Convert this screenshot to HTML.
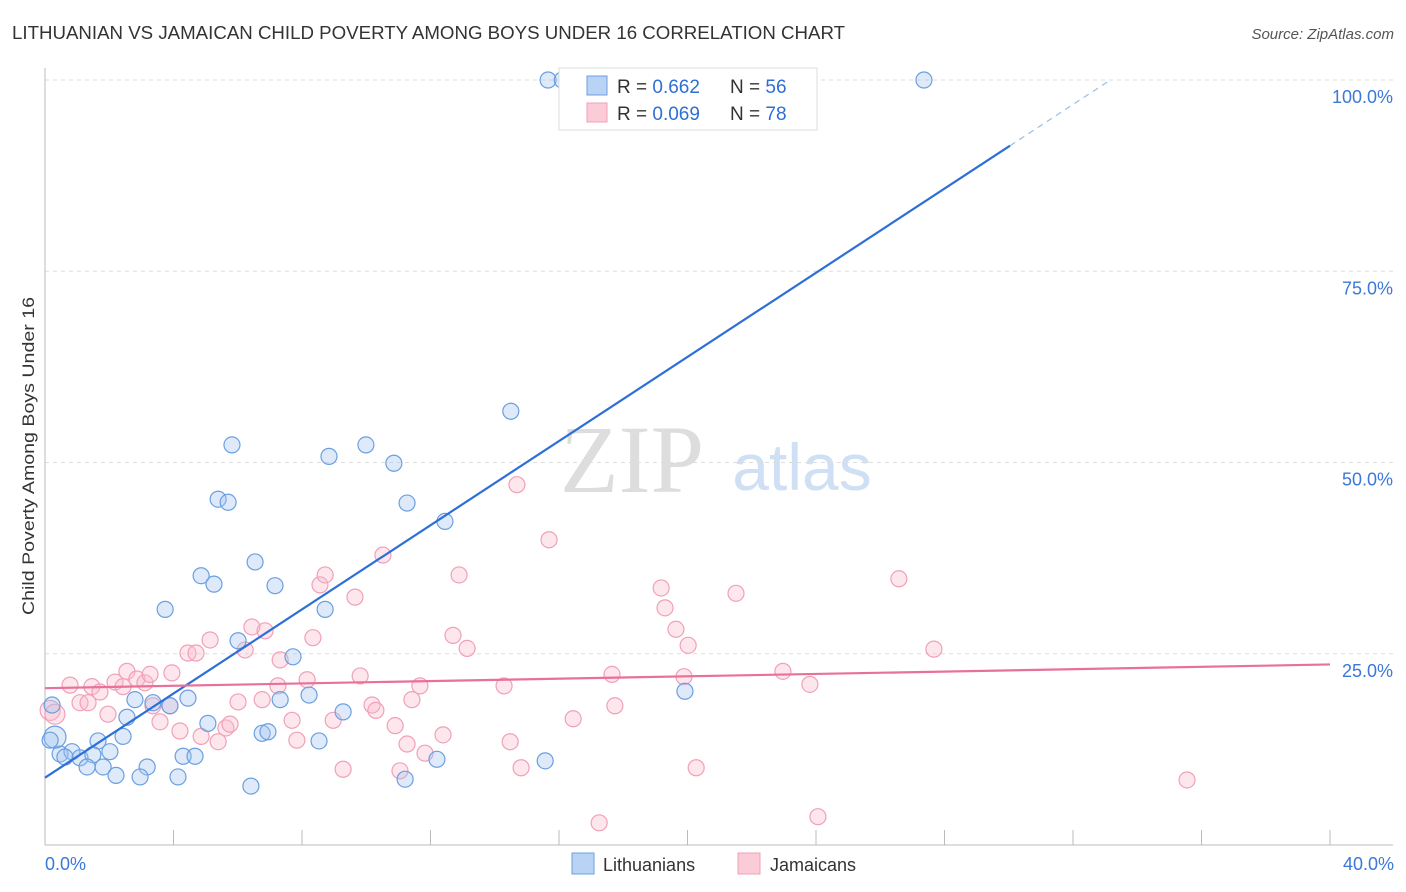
<!DOCTYPE html>
<html><head><meta charset="utf-8"><style>
body{margin:0;background:#fff;font-family:"Liberation Sans",sans-serif}
svg{display:block}
</style></head><body>
<svg id="chart" width="1406" height="892">
<text x="12" y="39" font-size="18" fill="#333" textLength="833" lengthAdjust="spacingAndGlyphs">LITHUANIAN VS JAMAICAN CHILD POVERTY AMONG BOYS UNDER 16 CORRELATION CHART</text>
<text x="1394" y="39" font-size="15" fill="#555" font-style="italic" text-anchor="end">Source: ZipAtlas.com</text>
<text transform="translate(34,456) rotate(-90)" font-size="17" fill="#333" text-anchor="middle" textLength="318" lengthAdjust="spacingAndGlyphs">Child Poverty Among Boys Under 16</text>
<text x="632" y="492" font-size="96" fill="#ddd" font-family="Liberation Serif,serif" text-anchor="middle">ZIP</text>
<text x="802" y="490" font-size="66" fill="#cfe0f4" text-anchor="middle">atlas</text>
<g id="grid"></g><g id="pts"></g><g id="lines"></g>
<g>
<rect x="559" y="68" width="258" height="62" fill="#fff" stroke="#ddd"/>
<rect x="587" y="76" width="20" height="19" fill="#b9d3f4" stroke="#6a9fe0"/>
<rect x="587" y="103" width="20" height="19" fill="#fbcbd8" stroke="#f0a0b8"/>
<text x="617" y="93" font-size="19" fill="#333">R = <tspan fill="#2d6fd6">0.662</tspan></text>
<text x="730" y="93" font-size="19" fill="#333">N = <tspan fill="#2d6fd6">56</tspan></text>
<text x="617" y="120" font-size="19" fill="#333">R = <tspan fill="#2d6fd6">0.069</tspan></text>
<text x="730" y="120" font-size="19" fill="#333">N = <tspan fill="#2d6fd6">78</tspan></text>
</g>
<g>
<rect x="572" y="853" width="22" height="21" fill="#b9d3f4" stroke="#6a9fe0"/>
<text x="603" y="871" font-size="18" fill="#333">Lithuanians</text>
<rect x="738" y="853" width="22" height="21" fill="#fbcbd8" stroke="#f0a0b8"/>
<text x="770" y="871" font-size="18" fill="#333">Jamaicans</text>
</g>
</svg>
<script>
const xTicks=[0,4,8,12,16,20,24,28,32,36,40];
const yTicks=[25,50,75,100];
const blueX=[15.66,16.1,27.36,14.5,5.82,9.99,8.84,10.86,5.39,5.70,11.27,12.45,6.54,4.86,5.26,7.16,3.74,8.72,6.01,7.72,4.45,8.22,7.32,3.36,2.80,3.89,9.28,2.55,5.07,6.76,6.94,8.53,2.43,1.65,2.02,0.47,0.84,1.09,1.49,1.31,1.81,3.18,4.30,4.67,2.21,2.96,4.14,6.41,11.21,12.2,15.57,19.92,0.31,0.22,0.62,0.16];
const blueY=[100,100,100,56.7,52.3,52.3,50.8,49.9,45.2,44.8,44.7,42.3,37.0,35.2,34.1,33.9,30.8,30.8,26.7,24.6,19.2,19.6,19.0,18.6,19.0,18.2,17.4,16.7,15.9,14.6,14.8,13.6,14.2,13.6,12.2,11.9,12.2,11.4,11.8,10.2,10.2,10.2,11.6,11.6,9.1,8.9,8.9,7.7,8.6,11.2,11.0,20.1,14.1,18.3,11.5,13.7];
const pinkX=[0.16,0.31,0.78,1.09,1.34,1.46,1.71,1.96,2.18,2.43,2.55,2.86,3.11,3.27,3.36,3.58,3.89,3.95,4.20,4.45,4.70,4.86,5.14,5.39,5.63,5.76,6.01,6.23,6.44,6.85,7.32,7.25,6.76,7.69,7.84,8.16,8.34,8.56,8.72,8.97,9.28,9.65,9.81,10.18,10.30,10.52,10.90,11.05,11.27,11.42,11.67,11.83,12.39,12.70,12.89,13.14,14.29,14.48,14.69,14.82,15.69,16.44,17.25,17.65,17.74,19.18,19.30,19.64,19.89,20.02,20.27,21.51,22.97,23.81,24.06,26.58,27.67,35.55];
const pinkY=[17.6,17.1,20.9,18.6,18.6,20.7,20.0,17.1,21.3,20.7,22.7,21.7,21.2,22.3,18.2,16.1,18.2,22.5,14.9,25.1,25.1,14.2,26.8,13.5,15.3,15.8,18.7,25.5,28.5,28.0,24.2,20.8,19.0,16.3,13.7,21.6,27.1,34.0,35.3,16.3,9.9,32.4,22.1,18.3,17.6,37.9,15.6,9.7,13.2,19.0,20.8,12.0,14.4,27.4,35.3,25.7,20.8,13.5,47.1,10.1,39.9,16.5,2.9,22.3,18.2,33.6,31.0,28.2,22.0,26.1,10.1,32.9,22.7,21.0,3.7,34.8,25.6,8.5];
const blueLine=[8.8,2.75]; // intercept, slope
const blueSolidEnd=30.04;
const pinkLine=[20.5,23.6]; // y at 0, y at 40
const NS='http://www.w3.org/2000/svg';
const X=v=>45+v/40*1285, Y=v=>845-v/100*765;
function mk(t,a,p){const e=document.createElementNS(NS,t);for(const k in a)e.setAttribute(k,a[k]);p.appendChild(e);return e;}
const grid=document.getElementById('grid');
yTicks.forEach(t=>{
 const l=mk('line',{x1:45,x2:1393,y1:Y(t),y2:Y(t),stroke:'#ddd','stroke-dasharray':'4,4'},grid);
 
 
 const tx=mk('text',{x:1393,y:Y(t)+23,'font-size':18,fill:'#3b78d8','text-anchor':'end'},grid);
 tx.textContent=t.toFixed(1)+'%';
 
 
});
mk('line',{x1:45,x2:45,y1:68,y2:845,stroke:'#bbb'},grid);
mk('line',{x1:45,x2:1393,y1:845,y2:845,stroke:'#bbb'},grid);
xTicks.forEach(t=>{
 const l=mk('line',{x1:X(t),x2:X(t),y1:830,y2:845,stroke:'#bbb'},grid);
 
 
});
[[0,'0.0%','start',45],[40,'40.0%','end',1394]].forEach(d=>{
 const tx=mk('text',{x:d[3],y:870,'font-size':18,fill:'#3b78d8','text-anchor':d[2]},grid);
 tx.textContent=d[1];
 
 
});
const pts=document.getElementById('pts');
pinkX.forEach((x,i)=>{
 const c=mk('circle',{cx:X(x),cy:Y(pinkY[i]),r:i<2?10:8,fill:'rgba(248,185,204,0.35)',stroke:'#f0a0b8','stroke-width':1.2},pts);
 
 
});
blueX.forEach((x,i)=>{
 const c=mk('circle',{cx:X(x),cy:Y(blueY[i]),r:i==52?11:8,fill:'rgba(160,196,240,0.35)',stroke:'#6a9fe0','stroke-width':1.2},pts);
 
 
});
const lines=document.getElementById('lines');
const bY=x=>blueLine[0]+blueLine[1]*x;
const bl=mk('line',{x1:X(0),y1:Y(bY(0)),x2:X(blueSolidEnd),y2:Y(bY(blueSolidEnd)),stroke:'#2d6fd6','stroke-width':2.2},lines);


const xe=(100-blueLine[0])/blueLine[1];
const bd=mk('line',{x1:X(blueSolidEnd),y1:Y(bY(blueSolidEnd)),x2:X(xe),y2:Y(100),stroke:'#9bbbe8','stroke-width':1.2,'stroke-dasharray':'6,5'},lines);


const pl=mk('line',{x1:X(0),y1:Y(pinkLine[0]),x2:X(40),y2:Y(pinkLine[1]),stroke:'#e8709a','stroke-width':2.2},lines);


</script>
</body></html>
